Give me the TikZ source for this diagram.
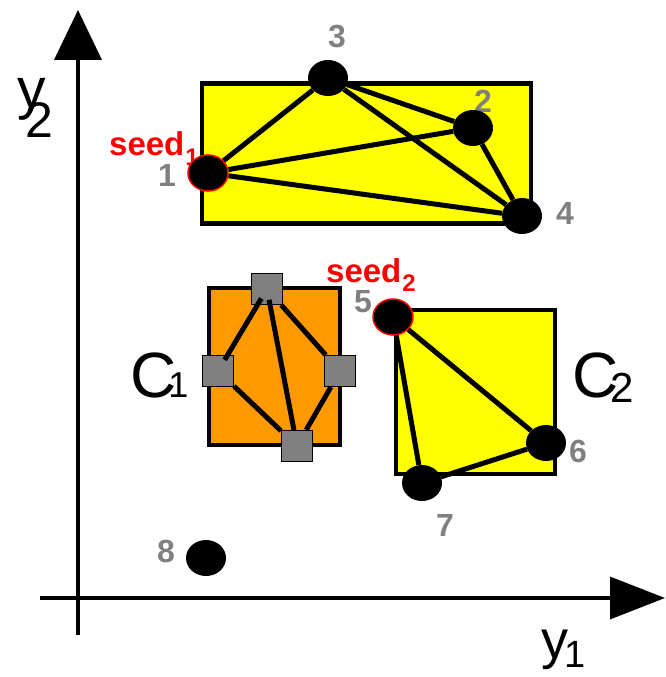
\documentclass[tikz,border=0pt]{standalone}
\usepackage{fontspec}
\setmainfont{Liberation Sans}
\usetikzlibrary{arrows.meta,shapes.geometric}
\definecolor{cyel}{HTML}{FFFF00}
\definecolor{corg}{HTML}{FF9900}
\definecolor{cgry}{HTML}{808080}
\definecolor{cred}{HTML}{FF0000}
\begin{document}
\begin{tikzpicture}[x=1pt,y=-1pt,
  pt/.style={ellipse,fill=black,minimum width=40pt,minimum height=36pt,inner sep=0pt},
  seedpt/.style={pt,draw=cred,line width=1.5pt},
  sq/.style={rectangle,fill=cgry,draw=black,line width=1pt,minimum size=31pt,inner sep=0pt},
  edge/.style={line width=5pt},
  box/.style={draw=black,line width=4.5pt},
  lbl/.style={text=cgry,font=\fontsize{32}{32}\selectfont\bfseries,inner sep=0pt},
  seedlbl/.style={text=cred,font=\fontsize{33}{33}\selectfont\bfseries,inner sep=0pt,anchor=base west},
  big/.style={inner sep=0pt,anchor=base west},
  axis/.style={line width=4pt}
]
\useasboundingbox (0,0) rectangle (665,677);

% axes
\coordinate (yo) at (78,635);
\coordinate (ytip) at (78,10);
\coordinate (xo) at (40,598);
\coordinate (xtip) at (665,598);
\draw[axis,-{Triangle[length=50pt,width=47pt]}] (yo) -- (ytip);
\draw[line width=3.5pt,-{Triangle[length=55pt,width=42pt]}] (xo) -- (xtip);

% rectangles
\node[box,fill=cyel,minimum width=329pt,minimum height=140pt,inner sep=0pt] (r1) at (366.5,153.5) {};
\node[box,fill=corg,minimum width=131pt,minimum height=157pt,inner sep=0pt] (r2) at (274.5,366.5) {};
\node[box,fill=cyel,minimum width=159pt,minimum height=164pt,inner sep=0pt] (r3) at (475.5,392) {};

% labels
\node[lbl] (l3) at (337,37) {3};
\node[lbl] (l2) at (483,101) {2};
\node[lbl] (l1) at (167,175) {1};
\node[lbl] (l4) at (565,213) {4};
\node[lbl] (l5) at (363,302) {5};
\node[lbl] (l6) at (578,451) {6};
\node[lbl] (l7) at (445,525) {7};
\node[lbl] (l8) at (166,551) {8};

\node[seedlbl] (s1) at (109,155) {seed\kern1pt\raisebox{-10pt}{\fontsize{24}{24}\selectfont 1}};
\node[seedlbl] (s2) at (326,282) {seed\kern1pt\raisebox{-9pt}{\fontsize{24}{24}\selectfont 2}};

\node[big,font=\fontsize{64}{64}\selectfont] (c1) at (130,397) {C\kern-8pt{\fontsize{36}{36}\selectfont 1}};
\node[big,font=\fontsize{64}{64}\selectfont] (c2) at (572,397) {C\kern-8pt\raisebox{-5pt}{\fontsize{42}{42}\selectfont 2}};
\node[big,font=\fontsize{57}{57}\selectfont] (ylab2) at (17,108) {y\kern-20pt\raisebox{-29pt}{\fontsize{50}{50}\selectfont 2}};
\node[big,font=\fontsize{54}{54}\selectfont] (ylab1) at (541,658) {y\kern-4pt\raisebox{-9pt}{\fontsize{38}{38}\selectfont 1}};

% points
\node[pt] (n3) at (328,78) {};
\node[pt] (n2) at (473,128) {};
\node[seedpt] (n1) at (208,173) {};
\node[pt] (n4) at (522,216) {};
\node[seedpt] (n5) at (393,317) {};
\node[pt] (n6) at (546,443) {};
\node[pt] (n7) at (422,483) {};
\node[pt] (n8) at (206,558) {};

% cluster C1 squares
\node[sq] (qt) at (267,289) {};
\node[sq] (ql) at (218,371) {};
\node[sq] (qr) at (340,371) {};
\node[sq] (qb) at (297,446) {};

% edges
\draw[edge] (n1) -- (n3);
\draw[edge] (n1) -- (n2);
\draw[edge] (n1) -- (n4);
\draw[edge] (n3) -- (n2);
\draw[edge] (n3) -- (n4);
\draw[edge] (n2) -- (n4);
\draw[edge] (n5) -- (n6);
\draw[edge] (n5) -- (n7);
\draw[edge] (n7) -- (n6);

\draw[edge] (qt) -- (qr);
\draw[edge] (ql) -- (qb);
\draw[edge] (qr) -- (qb);
\draw[edge,shorten <=11pt,shorten >=13pt] (qt.center) -- (ql.center);
\draw[edge,shorten <=11pt] (qt.center) -- (qb);
\end{tikzpicture}
\end{document}
